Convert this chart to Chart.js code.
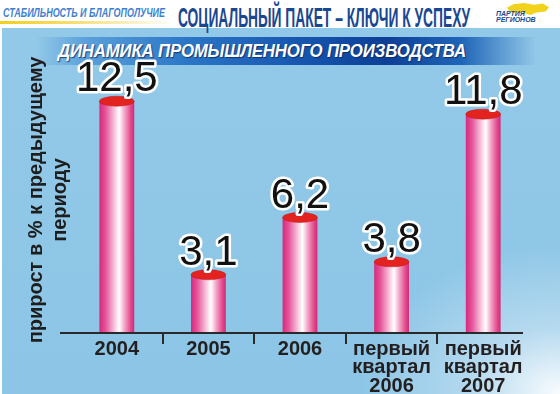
<!DOCTYPE html>
<html>
<head>
<meta charset="utf-8">
<script src="https://cdn.jsdelivr.net/npm/chart.js@4/dist/chart.umd.min.js"></script>
<style>
  html, body { margin: 0; padding: 0; background: #ffffff; overflow: hidden; }
  #page { position: relative; width: 560px; height: 394px; overflow: hidden; background: #ffffff; }
  #panel { position: absolute; left: 2px; top: 28px; width: 558px; height: 366px;
    background:
      radial-gradient(ellipse 200px 150px at 100% 100%, rgba(255,255,255,0.95) 0%, rgba(255,255,255,0.35) 45%, rgba(255,255,255,0) 100%),
      linear-gradient(180deg, #93c9e8 0%, #8cc5e6 100%); }
  #yellow { position: absolute; left: 0; top: 21px; width: 175px; height: 3px;
    background: linear-gradient(90deg, #f2cf1a 0%, #f6dd6a 40%, rgba(255,255,255,0) 100%); }
  #slogan { position: absolute; left: 3px; top: 5px; font: italic bold 13px "Liberation Sans Narrow", "Liberation Sans", Arial, sans-serif;
    color: #3d7fd1; white-space: nowrap; transform-origin: 0 0; }
  #title { position: absolute; left: 178px; top: 3px; font: bold 28px "Liberation Sans Narrow", "Liberation Sans", Arial, sans-serif;
    color: #1a4791; white-space: nowrap; transform-origin: 0 0; line-height: 30px; }
  #banner { position: absolute; left: 36px; top: 37px; width: 500px; height: 28px;
    background: linear-gradient(90deg, rgba(120,180,225,0) 0%, #5aa0da 10%, #2b76c6 30%, #1553ad 55%, #0d3f96 70%, #1f65b8 85%, rgba(110,170,225,0) 100%); }
  #sub { position: absolute; left: 58px; top: 40px;
    font: italic bold 18px "Liberation Sans", Arial, sans-serif; color: #ffffff; white-space: nowrap;
    text-shadow: 1px 1px 1px rgba(10,40,100,0.8); transform-origin: 0 0; line-height: 22px; letter-spacing: -0.2px; }
  #logoShape { position: absolute; left: 507px; top: 3px; width: 42px; height: 12px; background: #f3d21d;
    clip-path: polygon(0% 40%, 15% 10%, 40% 0%, 65% 15%, 85% 5%, 100% 35%, 92% 70%, 70% 80%, 55% 100%, 35% 75%, 15% 85%, 5% 65%); }
  #logoText { position: absolute; left: 496px; top: 11px; font: italic bold 7px "Liberation Sans", Arial, sans-serif; color: #1a4791; line-height: 6px; }
  #chartBox { position: absolute; left: 0; top: 0; width: 560px; height: 394px; }
</style>
</head>
<body>
<div id="page">
  <div id="panel"></div>
  <div id="yellow"></div>
  <div id="slogan">СТАБИЛЬНОСТЬ И БЛАГОПОЛУЧИЕ</div>
  <div id="title">СОЦИАЛЬНЫЙ ПАКЕТ – КЛЮЧИ К УСПЕХУ</div>
  <div id="logoShape"></div>
  <div id="logoText">ПАРТИЯ<br>РЕГИОНОВ</div>
  <div id="banner"></div>
  <div id="sub">ДИНАМИКА ПРОМЫШЛЕННОГО ПРОИЗВОДСТВА</div>
  <div id="chartBox"><canvas id="c"></canvas></div>
</div>
<script>
const categories = ['2004', '2005', '2006', ['первый', 'квартал', '2006'], ['первый', 'квартал', '2007']];
const growthValues = [12.5, 3.1, 6.2, 3.8, 11.8];
const valueLabels = ['12,5', '3,1', '6,2', '3,8', '11,8'];
const yAxisTitle = ['прирост в % к предыдущему', 'периоду'];

function fitText(id, width) {
  const el = document.getElementById(id);
  const w = el.getBoundingClientRect().width;
  if (w > 0) el.style.transform = 'scaleX(' + (width / w) + ')';
}
fitText('slogan', 162);
fitText('title', 292);
fitText('sub', 408);

const BAR_PCT = 0.38;

function cylGradient(context) {
  const chart = context.chart;
  const xs = chart.scales.x;
  if (!xs || !chart.chartArea) return '#e04a8c';
  const cx = xs.getPixelForValue(context.dataIndex);
  const w = (xs.width / categories.length) * BAR_PCT;
  const g = chart.ctx.createLinearGradient(cx - w / 2, 0, cx + w / 2, 0);
  g.addColorStop(0, '#d8287b');
  g.addColorStop(0.18, '#e4559a');
  g.addColorStop(0.42, '#f7bed8');
  g.addColorStop(0.57, '#ffffff');
  g.addColorStop(0.72, '#f3a6c9');
  g.addColorStop(0.9, '#e2498c');
  g.addColorStop(1, '#cf2b74');
  return g;
}

const cylinderPlugin = {
  id: 'cylinder',
  afterDatasetsDraw(chart) {
    const ctx = chart.ctx;
    const area = chart.chartArea;
    ctx.save();
    ctx.strokeStyle = '#2a2a2a';
    ctx.lineWidth = 2;
    ctx.beginPath();
    ctx.moveTo(area.left - 11, area.bottom + 1);
    ctx.lineTo(area.right - 6, area.bottom + 1);
    ctx.stroke();
    const meta = chart.getDatasetMeta(0);
    meta.data.forEach((bar, i) => {
      const p = bar.getProps(['x', 'y', 'width'], true);
      ctx.fillStyle = '#e2231f';
      ctx.beginPath();
      ctx.ellipse(p.x, p.y, p.width / 2, 5, 0, 0, Math.PI * 2);
      ctx.fill();
      ctx.strokeStyle = 'rgba(190,20,30,0.6)';
      ctx.lineWidth = 0.8;
      ctx.stroke();
      ctx.font = '42px "Liberation Sans", Arial, sans-serif';
      ctx.textAlign = 'center';
      ctx.textBaseline = 'alphabetic';
      ctx.lineJoin = 'round';
      ctx.lineWidth = 5;
      ctx.strokeStyle = '#ffffff';
      ctx.strokeText(valueLabels[i], p.x, p.y - 10);
      ctx.fillStyle = '#111111';
      ctx.fillText(valueLabels[i], p.x, p.y - 10);
    });
    ctx.restore();
  }
};

new Chart(document.getElementById('c'), {
  type: 'bar',
  data: {
    labels: categories,
    datasets: [{
      data: growthValues,
      backgroundColor: cylGradient,
      borderWidth: 0,
      categoryPercentage: 1,
      barPercentage: BAR_PCT
    }]
  },
  options: {
    responsive: true,
    maintainAspectRatio: false,
    animation: false,
    events: [],
    layout: { padding: { top: 68, right: 31, left: 0, bottom: 0 } },
    plugins: { legend: { display: false }, tooltip: { enabled: false } },
    scales: {
      x: {
        afterFit(scale) { scale.height = 62; },
        border: { display: false },
        grid: {
          offset: true,
          drawOnChartArea: false,
          drawTicks: true,
          tickLength: 12,
          lineWidth: 2,
          color: (c) => (c.type !== 'tick' || c.index === 0) ? 'rgba(0,0,0,0)' : '#2a2a2a'
        },
        ticks: {
          color: '#231f20',
          padding: -4,
          font: { family: '"Liberation Sans", Arial, sans-serif', size: 20, weight: 'bold', lineHeight: 0.93 },
          maxRotation: 0,
          autoSkip: false
        }
      },
      y: {
        min: 0,
        max: 14.3,
        afterFit(scale) { scale.width = 71; },
        border: { display: false },
        grid: { display: false },
        ticks: { display: false },
        title: {
          display: true,
          text: yAxisTitle,
          color: '#1d1d1d',
          padding: { top: 24, bottom: 0 },
          font: { family: '"Liberation Sans", Arial, sans-serif', size: 20, weight: 'bold', lineHeight: 1.2 }
        }
      }
    }
  },
  plugins: [cylinderPlugin]
});
</script>
</body>
</html>
